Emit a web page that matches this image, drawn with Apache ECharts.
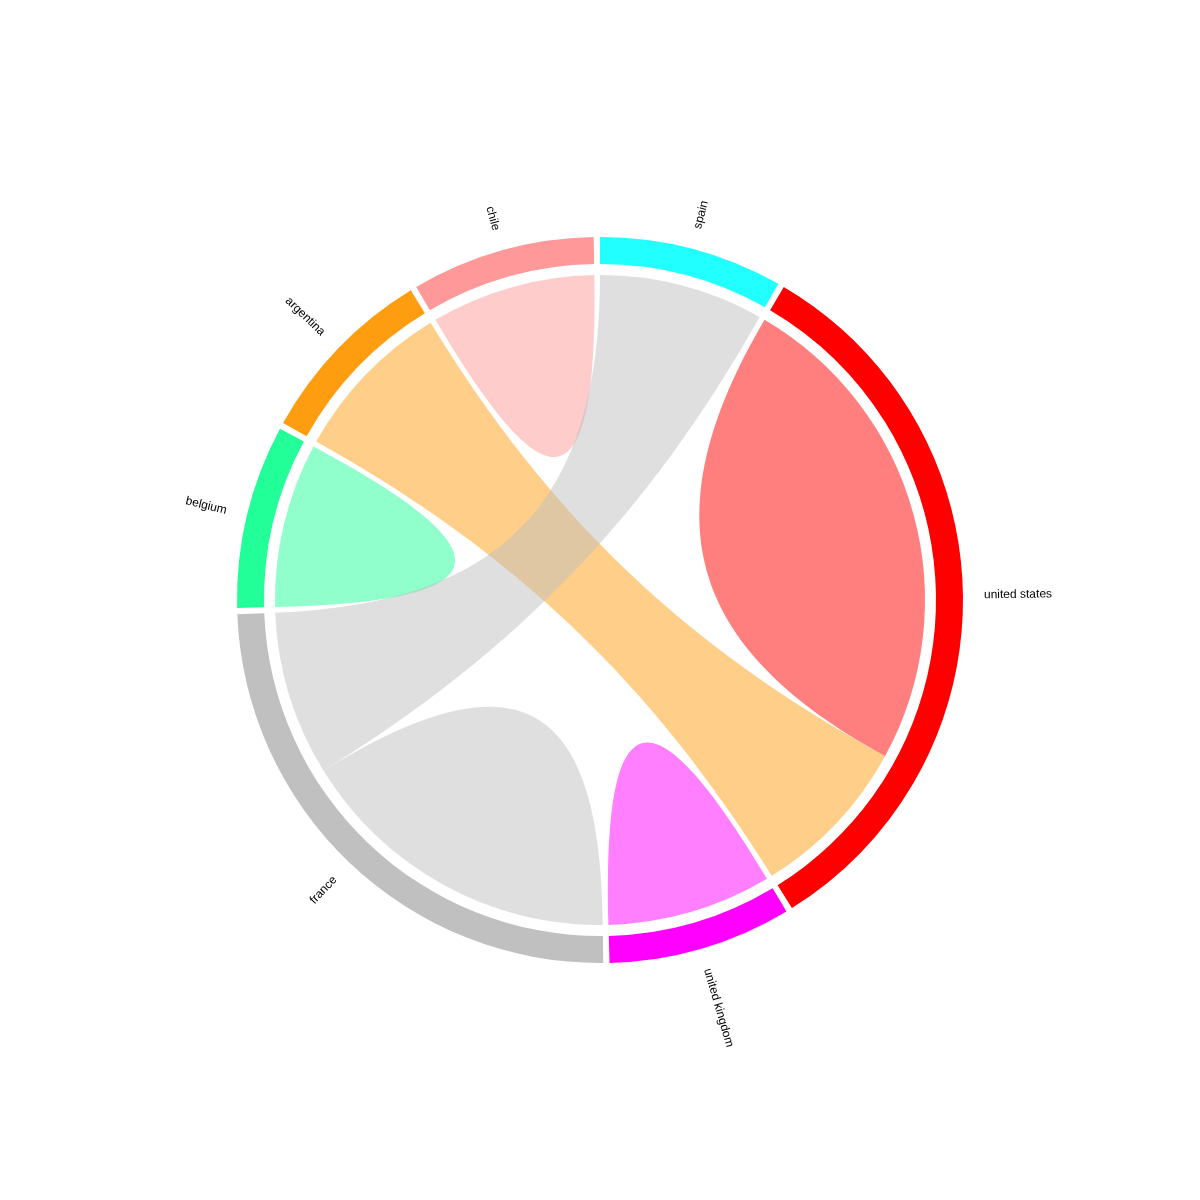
<!DOCTYPE html>
<html>
<head>
<meta charset="utf-8">
<script src="https://cdn.jsdelivr.net/npm/echarts@6/dist/echarts.min.js"></script>
<style>html,body{margin:0;padding:0;background:#fff}#chart{width:1200px;height:1200px}</style>
</head>
<body>
<div id="chart"></div>
<script>
// ---- data ----
const nodeNames = ['spain', 'united states', 'united kingdom', 'france', 'belgium', 'argentina', 'chile'];
const linkSource = ['united states', 'argentina', 'united kingdom', 'france', 'france', 'belgium', 'chile'];
const linkTarget = ['united states', 'united states', 'united kingdom', 'france', 'spain', 'belgium', 'chile'];
const linkValue = [3, 1, 1, 2, 1, 1, 1];

// ---- styles ----
const nodeColors = {
  'spain': '#22ffff', 'united states': '#ff0000', 'united kingdom': '#ff00ff',
  'france': '#c0c0c0', 'belgium': '#22ff99', 'argentina': '#ff9d11', 'chile': '#ff9999'
};
const PAD = 1; // degrees between nodes
const FONT = '"Liberation Sans", Arial, sans-serif';

// node totals (matrix row sums; a self-loop counts once)
const nodeTotals = nodeNames.map(n => {
  let s = 0;
  linkSource.forEach((src, i) => {
    if (src === n || linkTarget[i] === n) s += linkValue[i];
  });
  return s;
});
const totalUnits = nodeTotals.reduce((a, b) => a + b, 0);
// value of an invisible spacer equal to the pad angle
const gapValue = PAD * totalUnits / (360 - nodeNames.length * PAD);

// ---- ribbon layer: every link end becomes its own (hidden) sub-node, so that
// self-loops span their whole node like a classic chord diagram ----
const ribbonNodes = [];
const ribbonLinks = [];
nodeNames.forEach(n => {
  linkSource.forEach((src, i) => {
    const tgt = linkTarget[i], v = linkValue[i];
    const style = { color: nodeColors[n], opacity: 0 };
    if (src === n && tgt === n) {
      ribbonNodes.push({ name: n + '#' + i + 'a', value: v / 2, itemStyle: style });
      ribbonNodes.push({ name: n + '#' + i + 'b', value: v / 2, itemStyle: style });
      ribbonLinks.push({ source: n + '#' + i + 'a', target: n + '#' + i + 'b', value: v / 2 });
    } else if (src === n) {
      ribbonNodes.push({ name: n + '#' + i + 's', value: v, itemStyle: style });
    } else if (tgt === n) {
      ribbonNodes.push({ name: n + '#' + i + 't', value: v, itemStyle: style });
    }
  });
  ribbonNodes.push({ name: 'gap#' + n, value: gapValue, itemStyle: { color: '#fff', opacity: 0 } });
});
linkSource.forEach((src, i) => {
  if (src !== linkTarget[i]) {
    ribbonLinks.push({ source: src + '#' + i + 's', target: linkTarget[i] + '#' + i + 't', value: linkValue[i] });
  }
});

// ---- arc layer ----
const arcNodes = nodeNames.map((n, i) => ({ name: n, value: nodeTotals[i], itemStyle: { color: nodeColors[n] } }));
const arcLinks = linkSource.map((src, i) => ({ source: src, target: linkTarget[i], value: linkValue[i] }))
  .filter(l => l.source !== l.target);

// ---- label layer (pie with the same spacers, so mid angles match the arcs) ----
const labelData = [];
nodeNames.forEach((n, i) => {
  labelData.push({ name: n, value: nodeTotals[i] });
  labelData.push({ name: 'gap#' + n, value: gapValue, label: { show: false } });
});

const chart = echarts.init(document.getElementById('chart'), null, { renderer: 'canvas' });
chart.setOption({
  backgroundColor: '#ffffff',
  animation: false,
  series: [
    {
      type: 'chord',
      center: [600, 600],
      radius: [325, 326],
      startAngle: 90,
      clockwise: true,
      padAngle: 0,
      minAngle: 0,
      silent: true,
      itemStyle: { borderRadius: 0, opacity: 0 },
      label: { show: false },
      lineStyle: { color: 'source', opacity: 0.5, width: 0 },
      emphasis: { disabled: true },
      data: ribbonNodes,
      links: ribbonLinks
    },
    {
      type: 'chord',
      center: [600, 600],
      radius: [336, 363],
      startAngle: 90,
      clockwise: true,
      padAngle: PAD,
      silent: true,
      itemStyle: { borderRadius: 0 },
      label: { show: false },
      lineStyle: { opacity: 0, width: 0 },
      emphasis: { disabled: true },
      data: arcNodes,
      links: arcLinks
    },
    {
      type: 'pie',
      center: [600, 600],
      radius: [382, 384],
      startAngle: 90,
      clockwise: true,
      padAngle: 0,
      silent: true,
      avoidLabelOverlap: false,
      minShowLabelAngle: 0,
      itemStyle: { color: 'rgba(0,0,0,0)' },
      label: {
        show: true, position: 'outside', rotate: 'radial',
        distanceToLabelLine: 0, color: '#000', fontSize: 12, fontFamily: FONT,
        formatter: '{b}'
      },
      labelLine: { show: false, length: 0, length2: 0 },
      emphasis: { disabled: true },
      data: labelData
    }
  ]
});
</script>
</body>
</html>
